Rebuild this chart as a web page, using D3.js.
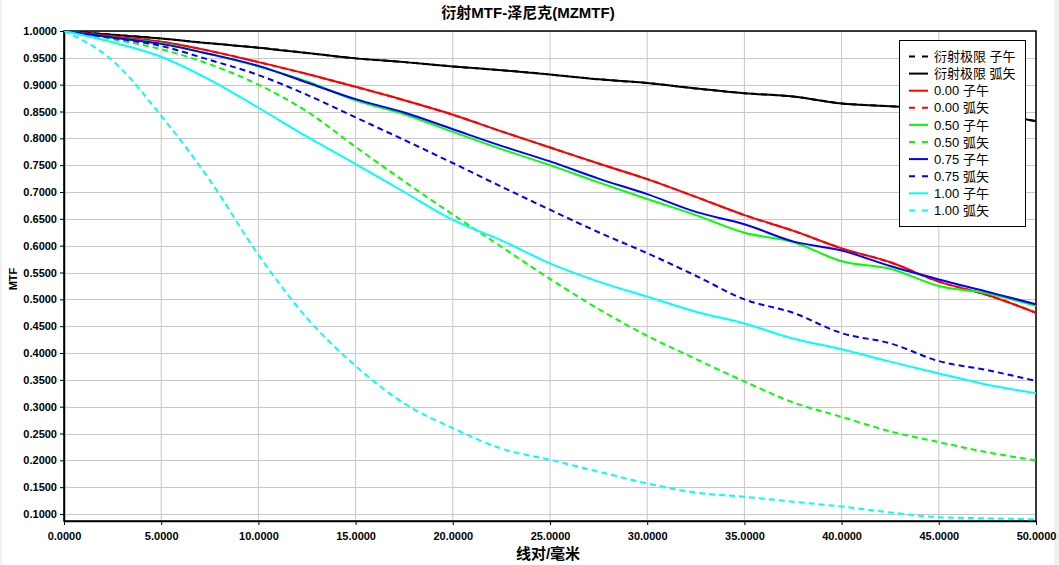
<!DOCTYPE html>
<html>
<head>
<meta charset="utf-8">
<script src="https://cdn.jsdelivr.net/npm/d3@7"></script>
<style>
  body { margin: 0; background: #f0f0f0; }
  svg { display: block; }
  text { font-family: "Liberation Sans", Arial, "Noto Sans CJK SC", sans-serif; }
</style>
</head>
<body>
<script>

var width = 1059,
    height = 565;

// spatial frequency, lp/mm
var freqs = [0, 2.5, 5, 7.5, 10, 12.5, 15, 17.5, 20, 22.5, 25, 27.5, 30, 32.5, 35, 37.5, 40, 42.5, 45, 47.5, 50];

// MTF values
var diffT   = [1, 0.993, 0.986, 0.977, 0.969, 0.959, 0.949, 0.942, 0.934, 0.927, 0.919, 0.910, 0.903, 0.893, 0.884, 0.878, 0.865, 0.860, 0.855, 0.847, 0.832];
var diffS   = diffT;
var f000T   = [1, 0.990, 0.980, 0.963, 0.942, 0.920, 0.896, 0.871, 0.844, 0.813, 0.783, 0.753, 0.724, 0.691, 0.657, 0.628, 0.595, 0.569, 0.533, 0.508, 0.475];
var f000S   = f000T;
var f050T   = [1, 0.988, 0.977, 0.957, 0.934, 0.906, 0.871, 0.845, 0.812, 0.780, 0.750, 0.718, 0.687, 0.657, 0.624, 0.607, 0.571, 0.557, 0.525, 0.511, 0.488];
var f050S   = [1, 0.985, 0.966, 0.938, 0.900, 0.850, 0.784, 0.720, 0.658, 0.598, 0.538, 0.482, 0.432, 0.389, 0.347, 0.308, 0.281, 0.254, 0.234, 0.215, 0.200];
var f075T   = [1, 0.988, 0.976, 0.957, 0.935, 0.904, 0.873, 0.848, 0.817, 0.786, 0.757, 0.725, 0.696, 0.663, 0.640, 0.608, 0.591, 0.562, 0.537, 0.514, 0.491];
var f075S   = [1, 0.987, 0.972, 0.946, 0.918, 0.881, 0.839, 0.797, 0.754, 0.710, 0.667, 0.625, 0.586, 0.544, 0.500, 0.475, 0.437, 0.418, 0.385, 0.368, 0.348];
var f100T   = [1, 0.979, 0.952, 0.909, 0.857, 0.803, 0.752, 0.700, 0.648, 0.610, 0.567, 0.533, 0.505, 0.477, 0.455, 0.427, 0.407, 0.384, 0.362, 0.341, 0.325];
var f100S   = [1, 0.945, 0.842, 0.722, 0.583, 0.465, 0.376, 0.306, 0.260, 0.222, 0.201, 0.179, 0.157, 0.140, 0.132, 0.123, 0.114, 0.103, 0.094, 0.092, 0.090];

var names  = ["衍射极限 子午", "衍射极限 弧矢", "0.00 子午", "0.00 弧矢", "0.50 子午", "0.50 弧矢", "0.75 子午", "0.75 弧矢", "1.00 子午", "1.00 弧矢"];
var values = [diffT, diffS, f000T, f000S, f050T, f050S, f075T, f075S, f100T, f100S];
var colors = ["#000000", "#000000", "#ff0000", "#ff0000", "#00ff00", "#00ff00", "#0000ff", "#0000ff", "#00ffff", "#00ffff"];
var dashed = [true, false, false, true, false, true, false, true, false, true];

var xTicks = d3.range(0, 50.01, 5);
var yTicks = d3.range(0.1, 1.0001, 0.05);

var x = d3.scaleLinear().domain([0, 50]).range([64, 1036]);
var y = d3.scaleLinear().domain([0.087, 1.0]).range([521, 31]);

var svg = d3.select("body").append("svg")
    .attr("width", width)
    .attr("height", height);

svg.append("rect")
    .attr("x", 2).attr("y", 0)
    .attr("width", 1052).attr("height", height)
    .attr("fill", "#fff");

// grid
svg.append("g").selectAll("line")
    .data(xTicks)
    .enter().append("line")
      .attr("x1", function(d) { return x(d); })
      .attr("x2", function(d) { return x(d); })
      .attr("y1", 31).attr("y2", 521)
      .attr("stroke", "#c8c8c8");

svg.append("g").selectAll("line")
    .data(yTicks)
    .enter().append("line")
      .attr("x1", 64).attr("x2", 1036)
      .attr("y1", function(d) { return Math.round(y(d)) + 0.5; })
      .attr("y2", function(d) { return Math.round(y(d)) + 0.5; })
      .attr("stroke", "#c8c8c8");

// axes
var xAxis = svg.append("g")
    .attr("transform", "translate(0,521)")
    .call(d3.axisBottom(x).tickValues(xTicks).tickFormat(d3.format(".4f")).tickSize(4).tickSizeOuter(0));

var yAxis = svg.append("g")
    .attr("transform", "translate(64,0)")
    .call(d3.axisLeft(y).tickValues(yTicks).tickFormat(d3.format(".4f")).tickSize(4).tickSizeOuter(0));

[xAxis, yAxis].forEach(function(a) {
  a.select(".domain").attr("stroke", "#000").attr("stroke-width", 1.5);
  a.selectAll("text")
      .attr("fill", "#000")
      .style("font-size", "11px")
      .style("font-weight", "bold");
});
xAxis.selectAll("text").attr("dy", "1.1em");

// frame
svg.append("rect")
    .attr("x", 64).attr("y", 31)
    .attr("width", 972).attr("height", 490)
    .attr("fill", "none")
    .attr("stroke", "#000")
    .attr("stroke-width", 1.5);

// curves
var line = d3.line()
    .x(function(d, i) { return x(freqs[i]); })
    .y(function(d) { return y(d); })
    .curve(d3.curveMonotoneX);

var clip = svg.append("clipPath").attr("id", "clip")
  .append("rect").attr("x", 64).attr("y", 31).attr("width", 972).attr("height", 490);

var g = svg.append("g").attr("clip-path", "url(#clip)");

g.selectAll("path")
    .data(values)
    .enter().append("path")
      .attr("d", line)
      .attr("fill", "none")
      .attr("stroke", function(d, i) { return colors[i]; })
      .attr("stroke-width", 2)
      .attr("stroke-dasharray", function(d, i) { return dashed[i] ? "6,4" : null; });

// legend
var legend = svg.append("g");

legend.append("rect")
    .attr("x", 899.5).attr("y", 40.5)
    .attr("width", 126).attr("height", 186)
    .attr("fill", "#fff")
    .attr("stroke", "#000");

var item = legend.selectAll(".item")
    .data(names)
    .enter().append("g")
      .attr("class", "item")
      .attr("transform", function(d, i) { return "translate(0," + (56.5 + i * 17.1) + ")"; });

item.append("line")
    .attr("x1", 909).attr("x2", 928)
    .attr("stroke", function(d, i) { return colors[i]; })
    .attr("stroke-width", 2)
    .attr("stroke-dasharray", function(d, i) { return dashed[i] ? "6,7" : null; });

item.append("text")
    .attr("x", 934)
    .attr("dy", "0.36em")
    .style("font-size", "13px")
    .attr("fill", "#000")
    .text(function(d) { return d; });

// titles
svg.append("text")
    .attr("x", 528).attr("y", 18)
    .attr("text-anchor", "middle")
    .style("font-size", "15px")
    .style("font-weight", "bold")
    .text("衍射MTF-泽尼克(MZMTF)");

svg.append("text")
    .attr("x", 548).attr("y", 559)
    .attr("text-anchor", "middle")
    .style("font-size", "15px")
    .style("font-weight", "bold")
    .text("线对/毫米");

svg.append("text")
    .attr("transform", "translate(17,279) rotate(-90)")
    .attr("text-anchor", "middle")
    .style("font-size", "11px")
    .style("font-weight", "bold")
    .text("MTF");

</script>
</body>
</html>
